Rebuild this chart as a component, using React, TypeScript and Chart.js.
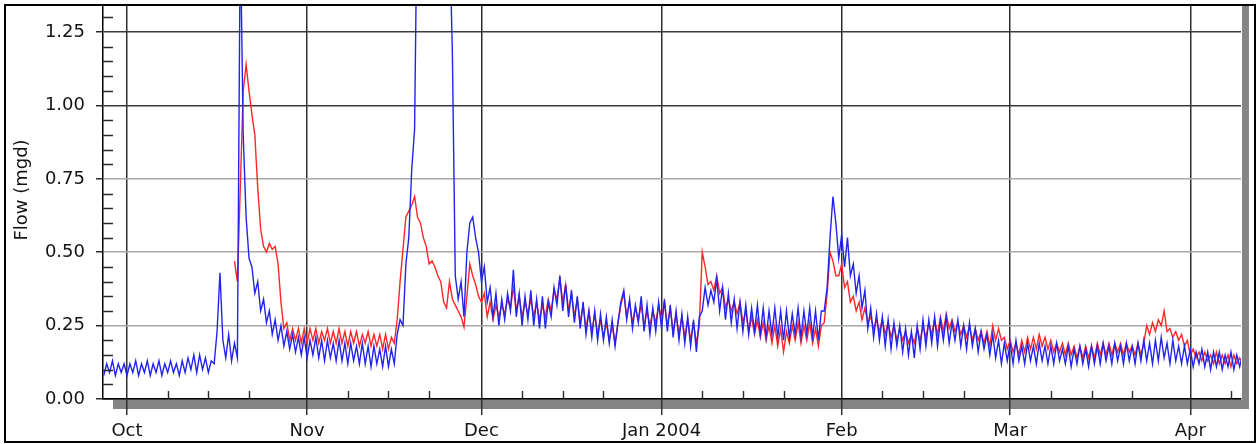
import React, { useEffect, useRef } from 'react';
import { Chart, registerables } from 'chart.js';

Chart.register(...registerables);

// ---------- axis definitions (x = days after 1 Oct 2003, 00:00) ----------
const X_MIN = -4.13;
const X_MAX = 191.73;
const Y_MIN = 0;
const Y_MAX = 1.339;
const monthStarts = [0, 31, 61, 92, 123, 152, 183];
const monthLabels = ['Oct', 'Nov', 'Dec', 'Jan 2004', 'Feb', 'Mar', 'Apr'];
const weekTicks = [7, 14, 21, 38, 45, 52, 68, 75, 82, 99, 106, 113, 130, 137, 144, 159, 166, 173, 190];
const yTicks = [0, 0.25, 0.5, 0.75, 1.0, 1.25];
const yMinorTicks = [0.05, 0.1, 0.15, 0.2, 0.3, 0.35, 0.4, 0.45, 0.55, 0.6, 0.65, 0.7, 0.8, 0.85, 0.9, 0.95, 1.05, 1.1, 1.15, 1.2, 1.3];

// ---------- series start days and sample step (12 h) ----------
const STEP = 0.5;
const SEP27 = -4, OCT = 0, NOV = 31, DEC = 61, JAN = 92, FEB = 123, MAR = 152, APR = 183;
const RED_START = 18.5;

// ---------- blue series (flow, mgd), 12-hourly ----------
const blueSep = [0.08, 0.12, 0.09, 0.13, 0.08, 0.12, 0.09, 0.12];
const blueOct = [
  0.08, 0.12, 0.09, 0.13, 0.08, 0.12, 0.09, 0.13, 0.08, 0.12,
  0.09, 0.13, 0.08, 0.12, 0.09, 0.13, 0.09, 0.12, 0.08, 0.13,
  0.09, 0.14, 0.10, 0.15, 0.09, 0.15, 0.10, 0.14, 0.09, 0.13,
  0.12, 0.23, 0.43, 0.20, 0.14, 0.22, 0.13, 0.19, 0.14, 1.60,
  0.90, 0.62, 0.48, 0.45, 0.36, 0.40, 0.30, 0.34, 0.26, 0.30,
  0.22, 0.27, 0.20, 0.25, 0.18, 0.23, 0.17, 0.22, 0.16, 0.21,
  0.15, 0.21,
];
const blueNov = [
  0.14, 0.20, 0.15, 0.21, 0.14, 0.20, 0.13, 0.20, 0.14, 0.19,
  0.13, 0.20, 0.13, 0.19, 0.12, 0.19, 0.13, 0.18, 0.12, 0.19,
  0.12, 0.18, 0.11, 0.18, 0.12, 0.17, 0.11, 0.18, 0.11, 0.17,
  0.12, 0.22, 0.27, 0.25, 0.46, 0.55, 0.78, 0.92, 1.80, 1.90,
  1.85, 1.80, 1.90, 1.85, 1.80, 1.75, 1.70, 1.75, 1.65, 1.60,
  1.18, 0.42, 0.34, 0.40, 0.28, 0.50, 0.60, 0.62, 0.55, 0.50,
];
const blueDec = [
  0.40, 0.45, 0.33, 0.38, 0.28, 0.36, 0.25, 0.34, 0.27, 0.36,
  0.30, 0.44, 0.28, 0.36, 0.25, 0.35, 0.27, 0.37, 0.25, 0.34,
  0.24, 0.35, 0.24, 0.33, 0.28, 0.38, 0.32, 0.42, 0.30, 0.39,
  0.28, 0.37, 0.26, 0.35, 0.24, 0.33, 0.22, 0.30, 0.21, 0.30,
  0.20, 0.29, 0.20, 0.28, 0.19, 0.27, 0.18, 0.26, 0.33, 0.37,
  0.27, 0.34, 0.24, 0.32, 0.26, 0.35, 0.23, 0.32, 0.22, 0.31,
  0.23, 0.33,
];
const blueJan = [
  0.24, 0.34, 0.23, 0.32, 0.21, 0.30, 0.20, 0.29, 0.19, 0.28,
  0.18, 0.27, 0.16, 0.28, 0.30, 0.38, 0.32, 0.37, 0.33, 0.41,
  0.30, 0.38, 0.27, 0.36, 0.26, 0.34, 0.24, 0.33, 0.23, 0.32,
  0.22, 0.31, 0.23, 0.32, 0.22, 0.31, 0.21, 0.30, 0.22, 0.31,
  0.21, 0.30, 0.20, 0.30, 0.21, 0.29, 0.22, 0.31, 0.21, 0.30,
  0.22, 0.31, 0.21, 0.30, 0.20, 0.30, 0.30, 0.38, 0.55, 0.69,
  0.60, 0.48,
];
const blueFeb = [
  0.56, 0.45, 0.55, 0.42, 0.46, 0.36, 0.42, 0.31, 0.37, 0.24,
  0.31, 0.21, 0.29, 0.20, 0.28, 0.18, 0.27, 0.17, 0.26, 0.18,
  0.25, 0.16, 0.24, 0.15, 0.23, 0.14, 0.25, 0.17, 0.27, 0.18,
  0.27, 0.19, 0.28, 0.18, 0.27, 0.20, 0.28, 0.19, 0.26, 0.20,
  0.27, 0.18, 0.25, 0.17, 0.26, 0.18, 0.24, 0.16, 0.23, 0.17,
  0.22, 0.15, 0.22, 0.14, 0.20, 0.12, 0.19, 0.13,
];
const blueMar = [
  0.19, 0.12, 0.20, 0.13, 0.18, 0.12, 0.19, 0.13, 0.18, 0.12,
  0.19, 0.13, 0.18, 0.12, 0.18, 0.12, 0.19, 0.13, 0.17, 0.12,
  0.18, 0.11, 0.17, 0.12, 0.18, 0.12, 0.17, 0.11, 0.18, 0.12,
  0.18, 0.12, 0.19, 0.13, 0.18, 0.12, 0.19, 0.13, 0.18, 0.12,
  0.19, 0.13, 0.18, 0.12, 0.19, 0.13, 0.20, 0.13, 0.19, 0.12,
  0.20, 0.13, 0.21, 0.14, 0.19, 0.12, 0.20, 0.13, 0.18, 0.12,
  0.18, 0.12,
];
const blueApr = [
  0.17, 0.11, 0.16, 0.12, 0.17, 0.11, 0.16, 0.10, 0.16, 0.11,
  0.16, 0.10, 0.15, 0.11, 0.16, 0.10, 0.15, 0.11, 0.15,
];

// ---------- red series (flow, mgd), 12-hourly ----------
const redOct = [
  0.47, 0.40, 0.72, 1.05, 1.14, 1.05, 0.97, 0.90, 0.72, 0.58,
  0.52, 0.50, 0.53, 0.51, 0.52, 0.46, 0.33, 0.24, 0.26, 0.20,
  0.24, 0.20, 0.24, 0.19, 0.24,
];
const redNov = [
  0.19, 0.24, 0.20, 0.24, 0.19, 0.23, 0.20, 0.24, 0.19, 0.23,
  0.19, 0.24, 0.19, 0.23, 0.18, 0.23, 0.19, 0.23, 0.18, 0.22,
  0.19, 0.23, 0.18, 0.22, 0.18, 0.22, 0.17, 0.22, 0.17, 0.21,
  0.19, 0.27, 0.40, 0.51, 0.62, 0.64, 0.66, 0.69, 0.62, 0.60,
  0.55, 0.52, 0.46, 0.47, 0.45, 0.42, 0.40, 0.33, 0.31, 0.40,
  0.34, 0.32, 0.30, 0.28, 0.245, 0.35, 0.46, 0.42, 0.39, 0.35,
];
const redDec = [
  0.33, 0.36, 0.28, 0.33, 0.27, 0.32, 0.28, 0.32, 0.29, 0.34,
  0.31, 0.38, 0.30, 0.35, 0.28, 0.33, 0.29, 0.34, 0.28, 0.33,
  0.27, 0.32, 0.28, 0.34, 0.30, 0.37, 0.34, 0.41, 0.33, 0.39,
  0.30, 0.36, 0.28, 0.34, 0.26, 0.32, 0.24, 0.30, 0.23, 0.29,
  0.22, 0.27, 0.21, 0.26, 0.20, 0.25, 0.19, 0.26, 0.32, 0.36,
  0.28, 0.33, 0.26, 0.31, 0.27, 0.32, 0.25, 0.30, 0.25, 0.30,
  0.26, 0.32,
];
const redJan = [
  0.27, 0.33, 0.25, 0.31, 0.23, 0.29, 0.22, 0.28, 0.21, 0.27,
  0.20, 0.26, 0.19, 0.25, 0.50, 0.45, 0.39, 0.40, 0.37, 0.42,
  0.36, 0.38, 0.31, 0.34, 0.30, 0.33, 0.29, 0.33, 0.26, 0.30,
  0.23, 0.28, 0.22, 0.27, 0.21, 0.26, 0.20, 0.25, 0.19, 0.25,
  0.18, 0.24, 0.16, 0.23, 0.19, 0.25, 0.20, 0.26, 0.19, 0.25,
  0.20, 0.26, 0.19, 0.24, 0.18, 0.25, 0.26, 0.36, 0.50, 0.47,
  0.42, 0.42,
];
const redFeb = [
  0.46, 0.38, 0.40, 0.33, 0.35, 0.30, 0.33, 0.27, 0.31, 0.26,
  0.28, 0.24, 0.27, 0.23, 0.27, 0.22, 0.26, 0.21, 0.25, 0.20,
  0.24, 0.20, 0.23, 0.19, 0.22, 0.19, 0.24, 0.20, 0.25, 0.21,
  0.26, 0.22, 0.27, 0.22, 0.28, 0.23, 0.29, 0.24, 0.27, 0.23,
  0.26, 0.22, 0.25, 0.21, 0.25, 0.20, 0.24, 0.20, 0.23, 0.19,
  0.23, 0.18, 0.25, 0.20, 0.24, 0.20, 0.21, 0.17,
];
const redMar = [
  0.20, 0.16, 0.19, 0.15, 0.20, 0.16, 0.21, 0.17, 0.21, 0.17,
  0.22, 0.18, 0.21, 0.17, 0.20, 0.16, 0.19, 0.16, 0.19, 0.15,
  0.19, 0.15, 0.18, 0.14, 0.18, 0.14, 0.18, 0.14, 0.18, 0.14,
  0.19, 0.15, 0.19, 0.15, 0.19, 0.15, 0.19, 0.16, 0.19, 0.15,
  0.19, 0.16, 0.18, 0.15, 0.19, 0.15, 0.19, 0.25, 0.22, 0.26,
  0.23, 0.27, 0.25, 0.30, 0.23, 0.24, 0.21, 0.23, 0.20, 0.22,
  0.18, 0.20,
];
const redApr = [
  0.15, 0.17, 0.14, 0.16, 0.13, 0.16, 0.13, 0.15, 0.12, 0.16,
  0.12, 0.15, 0.12, 0.15, 0.11, 0.15, 0.12, 0.14, 0.12,
];

// ---------- layout / style ----------
const W = 1257;
const H = 444;
const PLOT_LEFT = 103;
const PLOT_RIGHT = 1241;
const PLOT_TOP = 6;
const PLOT_BOTTOM = 399;
const PAD_LEFT = 5;
const PAD_BOTTOM = 2;
const FONT = 'DejaVu Sans';
const BLUE = '#2323f0';
const RED = '#ff2626';

const seg = (start: number, vals: number[]) => vals.map((y, i) => ({ x: start + i * STEP, y }));

const blueData = [
  ...seg(SEP27, blueSep), ...seg(OCT, blueOct), ...seg(NOV, blueNov), ...seg(DEC, blueDec),
  ...seg(JAN, blueJan), ...seg(FEB, blueFeb), ...seg(MAR, blueMar), ...seg(APR, blueApr),
];
const redData = [
  ...seg(RED_START, redOct), ...seg(NOV, redNov), ...seg(DEC, redDec), ...seg(JAN, redJan),
  ...seg(FEB, redFeb), ...seg(MAR, redMar), ...seg(APR, redApr),
];

const decorPlugin = {
  id: 'decor',
  beforeDraw(chart: any) {
    const { ctx, chartArea } = chart;
    ctx.save();
    ctx.fillStyle = '#ffffff';
    ctx.fillRect(0, 0, W, H);
    // grey drop-shadow of the plot frame
    ctx.fillStyle = '#858585';
    ctx.fillRect(chartArea.left + 10, chartArea.bottom + 1, chartArea.right - chartArea.left - 2, 9);
    ctx.fillRect(chartArea.right + 1, chartArea.top, 7, chartArea.bottom - chartArea.top + 10);
    ctx.restore();
  },
  afterDatasetsDraw(chart: any) {
    const { ctx, chartArea, scales } = chart;
    ctx.save();
    ctx.strokeStyle = '#2a2a2a';
    ctx.lineWidth = 1.4;
    ctx.beginPath();
    weekTicks.forEach((v) => {
      const px = Math.round(scales.x.getPixelForValue(v)) + 0.5;
      ctx.moveTo(px, chartArea.bottom);
      ctx.lineTo(px, chartArea.bottom - 8);
    });
    yMinorTicks.forEach((v) => {
      const py = Math.round(scales.y.getPixelForValue(v)) + 0.5;
      ctx.moveTo(chartArea.left, py);
      ctx.lineTo(chartArea.left + 10, py);
    });
    ctx.stroke();
    ctx.restore();
  },
  afterDraw(chart: any) {
    const { ctx } = chart;
    ctx.save();
    // y-axis title
    ctx.translate(22, 190);
    ctx.rotate(-Math.PI / 2);
    ctx.fillStyle = '#141414';
    ctx.font = `18px "${FONT}"`;
    ctx.textAlign = 'center';
    ctx.textBaseline = 'middle';
    ctx.fillText('Flow (mgd)', 0, 0);
    ctx.restore();
    // outer frame
    ctx.save();
    ctx.strokeStyle = '#000';
    ctx.lineWidth = 2;
    ctx.strokeRect(5, 5, 1250, 437);
    ctx.restore();
  },
};

export default function App() {
  const ref = useRef<HTMLCanvasElement>(null);

  useEffect(() => {
    const canvas = ref.current;
    if (!canvas) return;
    const chart = new Chart(canvas, {
      type: 'line',
      data: {
        datasets: [
          {
            label: 'Blue',
            data: blueData,
            borderColor: BLUE,
            borderWidth: 1.4,
            pointRadius: 0,
            tension: 0,
            fill: false,
            clip: 0,
          },
          {
            label: 'Red',
            data: redData,
            borderColor: RED,
            borderWidth: 1.4,
            pointRadius: 0,
            tension: 0,
            fill: false,
            clip: 0,
          },
        ],
      },
      options: {
        animation: false,
        responsive: false,
        devicePixelRatio: 1,
        events: [],
        layout: {
          padding: { left: PAD_LEFT, right: W - PLOT_RIGHT, top: PLOT_TOP, bottom: PAD_BOTTOM },
        },
        plugins: {
          legend: { display: false },
          tooltip: { enabled: false },
          title: { display: false },
        },
        scales: {
          x: {
            type: 'linear',
            min: X_MIN,
            max: X_MAX,
            afterBuildTicks: (s: any) => {
              s.ticks = monthStarts.map((v) => ({ value: v }));
            },
            afterFit: (s: any) => {
              s.height = H - PAD_BOTTOM - PLOT_BOTTOM;
              s.paddingLeft = 0;
              s.paddingRight = 0;
              s.paddingTop = 0;
              s.paddingBottom = 0;
            },
            ticks: {
              autoSkip: false,
              maxRotation: 0,
              minRotation: 0,
              padding: 6,
              color: '#141414',
              font: { family: FONT, size: 18 },
              callback: (v: any) => {
                const i = monthStarts.indexOf(Number(v));
                return i >= 0 ? monthLabels[i] : '';
              },
            },
            grid: {
              color: '#303030',
              lineWidth: 1.5,
              tickLength: 16,
              tickColor: '#303030',
              drawTicks: true,
            },
            border: { display: true, color: '#000', width: 1.5 },
          },
          y: {
            type: 'linear',
            min: Y_MIN,
            max: Y_MAX,
            afterBuildTicks: (s: any) => {
              s.ticks = yTicks.map((v) => ({ value: v }));
            },
            afterFit: (s: any) => {
              s.width = PLOT_LEFT - PAD_LEFT;
              s.paddingLeft = 0;
              s.paddingRight = 0;
              s.paddingTop = 0;
              s.paddingBottom = 0;
            },
            ticks: {
              padding: 11,
              color: '#141414',
              font: { family: FONT, size: 18 },
              callback: (v: any) => Number(v).toFixed(2),
            },
            grid: {
              color: (c: any) => {
                const v = c.tick ? c.tick.value : 0;
                if (v === 0) return '#000';
                return v >= 1 ? '#3a3a3a' : '#a8a8a8';
              },
              lineWidth: 1.5,
              tickLength: 7,
              tickColor: '#2a2a2a',
            },
            border: { display: true, color: '#000', width: 1.5 },
          },
        },
      },
      plugins: [decorPlugin],
    });
    return () => chart.destroy();
  }, []);

  return (
    <div style={{ position: 'absolute', left: 0, top: 0, width: W, height: H, background: '#fff' }}>
      <canvas ref={ref} width={W} height={H} style={{ display: 'block', width: W, height: H }} />
    </div>
  );
}
